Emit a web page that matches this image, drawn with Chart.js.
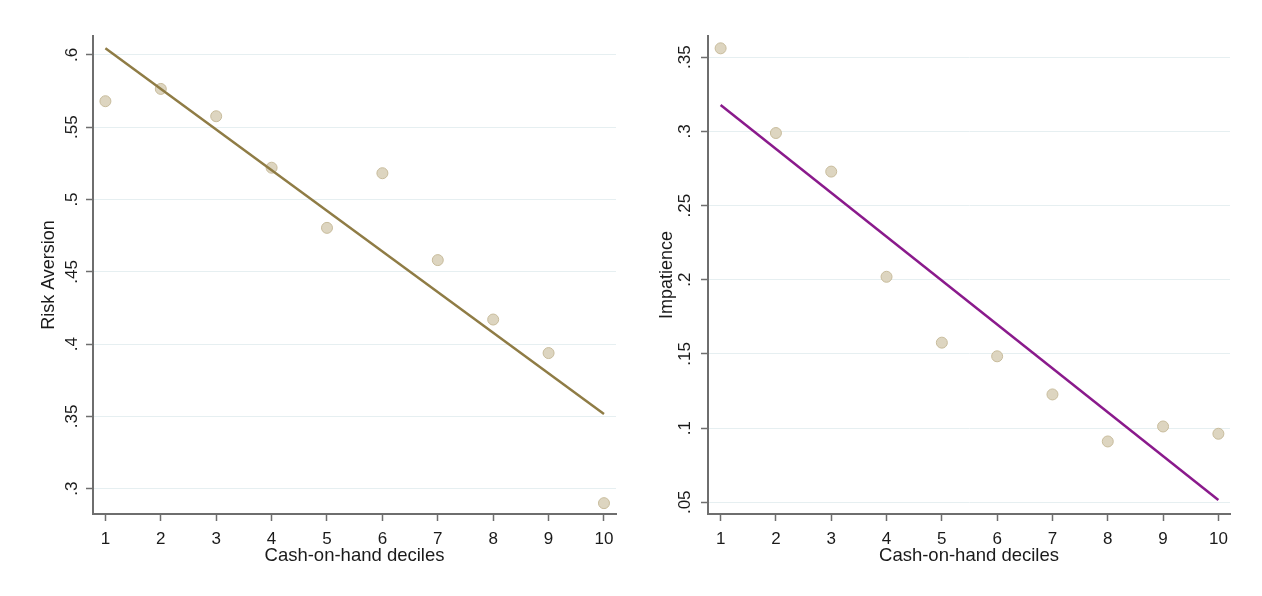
<!DOCTYPE html>
<html>
<head>
<meta charset="utf-8">
<script src="https://cdn.jsdelivr.net/npm/chart.js@4"></script>
<style>
  html, body { margin: 0; padding: 0; background: #ffffff; }
  #wrap { position: relative; width: 1262px; height: 596px; }
  .panel { position: absolute; top: 0; width: 631px; height: 596px; }
</style>
</head>
<body>
<div id="wrap">
  <div class="panel" style="left:0"><canvas id="riskChart" width="631" height="596"></canvas></div>
  <div class="panel" style="left:631px"><canvas id="impChart" width="631" height="596"></canvas></div>
</div>
<script>
// dados
const deciles = [1, 2, 3, 4, 5, 6, 7, 8, 9, 10];
const riskAversion = [0.568, 0.5765, 0.5576, 0.522, 0.4804, 0.5182, 0.4581, 0.417, 0.3938, 0.290];
const impatience = [0.356, 0.2989, 0.2729, 0.202, 0.1576, 0.1484, 0.1227, 0.091, 0.1011, 0.0962];
const riskTicks = [0.3, 0.35, 0.4, 0.45, 0.5, 0.55, 0.6];
const impTicks = [0.05, 0.1, 0.15, 0.2, 0.25, 0.3, 0.35];
const xTitle = 'Cash-on-hand deciles';

const FONT = "'Liberation Sans', Arial, sans-serif";
const AXIS_COLOR = '#6e6e6e';
const GRID_COLOR = '#e6eff1';
const TEXT_COLOR = '#1a1a1a';

// reta de mínimos quadrados
function linearFit(xs, ys) {
    const n = xs.length;
    const mx = xs.reduce((a, b) => a + b, 0) / n;
    const my = ys.reduce((a, b) => a + b, 0) / n;
    let sxy = 0, sxx = 0;
    for (let i = 0; i < n; i++) {
        sxy += (xs[i] - mx) * (ys[i] - my);
        sxx += (xs[i] - mx) * (xs[i] - mx);
    }
    const b = sxy / sxx;
    const a = my - b * mx;
    const x0 = xs[0], x1 = xs[n - 1];
    return [{ x: x0, y: a + b * x0 }, { x: x1, y: a + b * x1 }];
}

function fmtTick(v) {
    return v.toFixed(2).replace(/0$/, '').replace(/^0/, '');
}

function makeChart(id, values, yTicks, opt) {
    const points = deciles.map((d, i) => ({ x: d, y: values[i] }));
    return new Chart(document.getElementById(id), {
        type: 'scatter',
        data: {
            datasets: [
                {
                    label: opt.yTitle,
                    data: points,
                    backgroundColor: '#ddd5c0',
                    borderColor: '#c8bc9c',
                    borderWidth: 1,
                    pointRadius: 5.5,
                    order: 2
                },
                {
                    label: 'Fitted values',
                    type: 'line',
                    data: linearFit(deciles, values),
                    borderColor: opt.lineColor,
                    borderWidth: 2.5,
                    pointRadius: 0,
                    fill: false,
                    order: 1
                }
            ]
        },
        options: {
            responsive: false,
            animation: false,
            events: [],
            layout: { padding: { left: 0, top: 36, right: opt.padRight, bottom: 0 } },
            plugins: { legend: { display: false }, tooltip: { enabled: false } },
            scales: {
                x: {
                    type: 'linear',
                    min: opt.xMin,
                    max: opt.xMax,
                    afterBuildTicks: s => { s.ticks = deciles.map(v => ({ value: v })); },
                    afterFit: s => { s.height = 82; },
                    border: { color: AXIS_COLOR, width: 2 },
                    grid: { drawOnChartArea: false, drawTicks: true, tickLength: 7, tickColor: AXIS_COLOR, tickWidth: 1.5 },
                    ticks: { color: TEXT_COLOR, font: { family: FONT, size: 17 }, padding: 8, maxRotation: 0, callback: v => String(v) },
                    title: { display: true, text: xTitle, color: TEXT_COLOR, font: { family: FONT, size: 18.5 }, padding: { top: 0, bottom: 28.5 } }
                },
                y: {
                    type: 'linear',
                    min: opt.yMin,
                    max: opt.yMax,
                    afterBuildTicks: s => { s.ticks = yTicks.map(v => ({ value: v })); },
                    afterFit: s => { s.width = opt.yWidth; },
                    border: { color: AXIS_COLOR, width: 2 },
                    grid: { color: GRID_COLOR, lineWidth: 1, tickLength: 7, tickColor: AXIS_COLOR, tickWidth: 1.5 },
                    ticks: {
                        color: TEXT_COLOR, font: { family: FONT, size: 17 },
                        minRotation: 90, maxRotation: 90, crossAlign: 'center', padding: opt.tickPad,
                        callback: v => fmtTick(v)
                    },
                    title: { display: true, text: opt.yTitle, color: TEXT_COLOR, font: { family: FONT, size: 18 }, padding: { top: opt.titlePad, bottom: 0 } }
                }
            }
        }
    });
}

makeChart('riskChart', riskAversion, riskTicks, {
    yTitle: 'Risk Aversion', lineColor: '#8f7c45',
    yMin: 0.2825, yMax: 0.6131, xMin: 0.776, xMax: 10.217,
    yWidth: 93, padRight: 15, titlePad: 38, tickPad: 1.5
});

makeChart('impChart', impatience, impTicks, {
    yTitle: 'Impatience', lineColor: '#8a1a8c',
    yMin: 0.0421, yMax: 0.3643, xMin: 0.772, xMax: 10.21,
    yWidth: 77, padRight: 32, titlePad: 25, tickPad: 3.5
});
</script>
</body>
</html>
